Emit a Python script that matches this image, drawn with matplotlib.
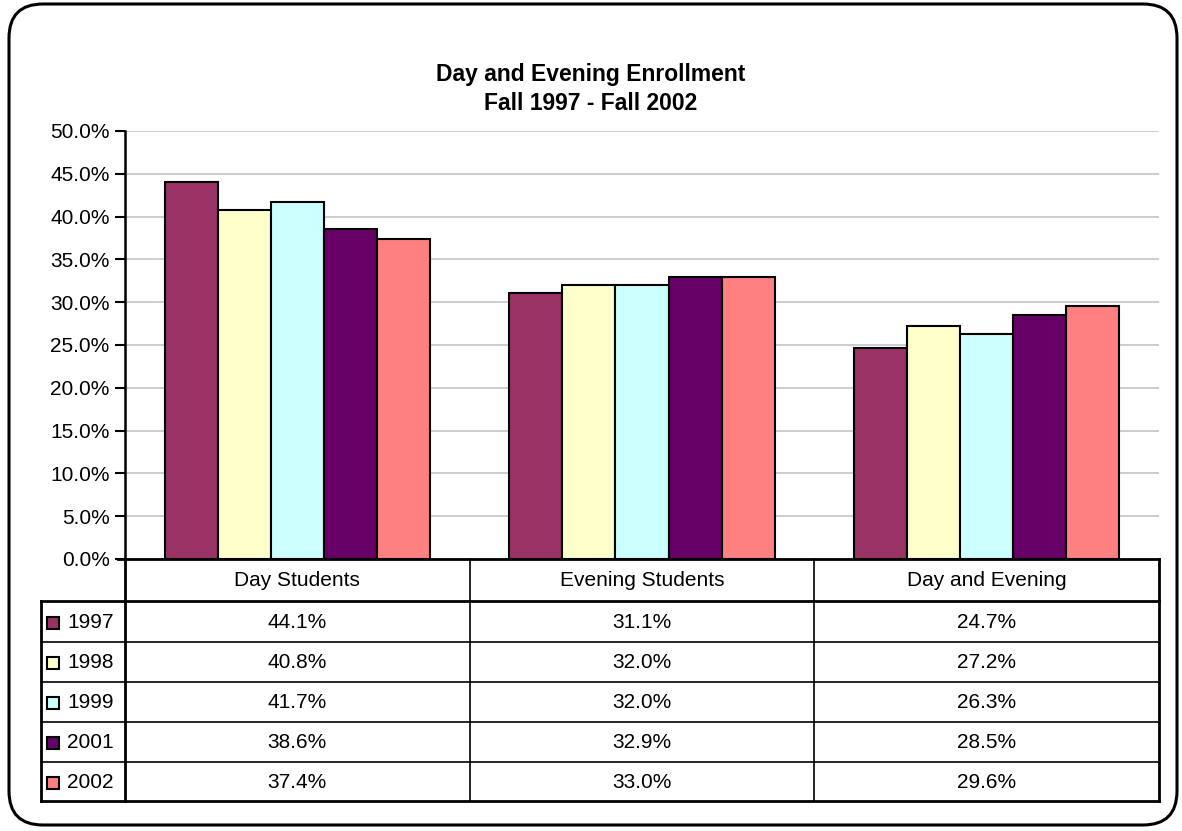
import matplotlib
matplotlib.use("Agg")
import matplotlib.pyplot as plt
from matplotlib.patches import FancyBboxPatch, Rectangle
import numpy as np

plt.rcParams['font.family'] = ['Liberation Sans', 'DejaVu Sans']

categories = ["Day Students", "Evening Students", "Day and Evening"]
years = ["1997", "1998", "1999", "2001", "2002"]
values = {
    "1997": [44.1, 31.1, 24.7],
    "1998": [40.8, 32.0, 27.2],
    "1999": [41.7, 32.0, 26.3],
    "2001": [38.6, 32.9, 28.5],
    "2002": [37.4, 33.0, 29.6],
}
colors = ["#993366", "#FFFFCC", "#CCFFFF", "#660066", "#FF8080"]
yticks = np.arange(0, 50.1, 5)
title = "Day and Evening Enrollment\nFall 1997 - Fall 2002"

W, H = 1182, 831
fig = plt.figure(figsize=(W / 100, H / 100), dpi=100)
FS = 15

# pixel geometry
ax_l, ax_r, ax_t, ax_b = 125, 1159, 131, 559
tab_l = 41
row_edges = [559, 601, 642, 682, 722, 762, 801]

# overlay axes in pixel coordinates
ov = fig.add_axes([0, 0, 1, 1], zorder=0)
ov.set_xlim(0, W)
ov.set_ylim(H, 0)
ov.axis("off")

# rounded outer border
ov.add_patch(FancyBboxPatch((9, 4), W - 9 - 5, H - 4 - 6,
                            boxstyle="round,pad=0,rounding_size=34",
                            fill=False, ec="black", lw=2.2))

ax = fig.add_axes([ax_l / W, 1 - ax_b / H, (ax_r - ax_l) / W, (ax_b - ax_t) / H], zorder=2)
ax.patch.set_alpha(0)
n = len(years)
group_w = 0.77
bw = group_w / n
x = np.arange(len(categories)) + 0.5
for i, (yr, c) in enumerate(zip(years, colors)):
    ax.bar(x - group_w / 2 + bw * (i + 0.5), values[yr], width=bw, color=c,
           edgecolor="black", linewidth=1.5, zorder=3)
ax.set_xlim(0, len(categories))
ax.set_ylim(0, 50)
ax.set_yticks(yticks)
ax.set_yticklabels([f"{v:.1f}%" for v in yticks], fontsize=FS)
ax.set_xticks([])
ax.yaxis.grid(True, color="#C0C0C0", linewidth=1.1, zorder=0)
ax.tick_params(axis="y", length=7, width=1.5, pad=4)
for s in ["top", "right", "bottom"]:
    ax.spines[s].set_visible(False)
ax.spines["left"].set_linewidth(1.8)

fig.text(0.5, 1 - 89 / H, title, ha="center", va="center", fontsize=16.5,
         fontweight="bold", linespacing=1.3)

# table drawn in pixel overlay (on top)
tb = fig.add_axes([0, 0, 1, 1], zorder=3)
tb.set_xlim(0, W)
tb.set_ylim(H, 0)
tb.axis("off")
col_w = (ax_r - ax_l) / len(categories)
col_edges = [ax_l + col_w * k for k in range(len(categories) + 1)]
thick, thin = 2.0, 1.2
tb.plot([ax_l - 7, ax_r], [row_edges[0]] * 2, color="black", lw=thick)
tb.plot([tab_l, ax_r], [row_edges[1]] * 2, color="black", lw=thick)
for yv in row_edges[2:-1]:
    tb.plot([tab_l, ax_r], [yv] * 2, color="black", lw=thin)
tb.plot([tab_l, ax_r], [row_edges[-1]] * 2, color="black", lw=thick)
tb.plot([tab_l, tab_l], [row_edges[1], row_edges[-1]], color="black", lw=thick)
tb.plot([ax_l, ax_l], [row_edges[0], row_edges[-1]], color="black", lw=thick)
for xv in col_edges[1:-1]:
    tb.plot([xv, xv], [row_edges[0], row_edges[-1]], color="black", lw=thin)
tb.plot([ax_r, ax_r], [row_edges[0], row_edges[-1]], color="black", lw=thick)

for k, cat in enumerate(categories):
    tb.text((col_edges[k] + col_edges[k + 1]) / 2, (row_edges[0] + row_edges[1]) / 2,
            cat, ha="center", va="center", fontsize=FS)

for i, (yr, c) in enumerate(zip(years, colors)):
    yc = (row_edges[i + 1] + row_edges[i + 2]) / 2 + 1
    tb.add_patch(Rectangle((47, yc - 6), 12, 12, facecolor=c, edgecolor="black", lw=1.5))
    tb.text(67, yc, yr, ha="left", va="center", fontsize=FS)
    for k in range(len(categories)):
        tb.text((col_edges[k] + col_edges[k + 1]) / 2, yc, f"{values[yr][k]:.1f}%",
                ha="center", va="center", fontsize=FS)

fig.savefig("out.png", dpi=100, facecolor="white")
